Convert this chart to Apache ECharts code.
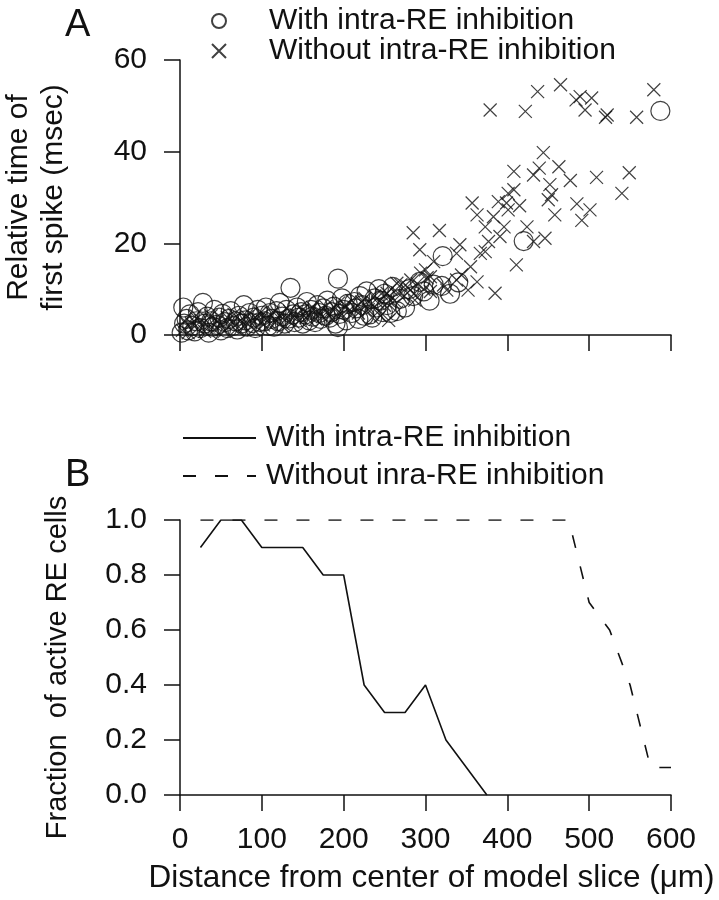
<!DOCTYPE html>
<html>
<head>
<meta charset="utf-8">
<script src="https://cdn.jsdelivr.net/npm/echarts@6/dist/echarts.min.js"></script>
<style>
html,body{margin:0;padding:0;background:#fff;}
#chart{width:719px;height:900px;}
</style>
</head>
<body>
<div id="chart"></div>
<script>
// ---------- DATA ----------
// Panel A: relative time of first spike (msec) vs distance (um)
const withInhibitionPts = [
  [2,0.5],[5,2.5],[4,6],[8,3.5],[10,1],[12,4.5],[15,2],[18,0.8],[20,3],[22,5],
  [25,1.5],[28,7],[30,2.5],[33,4],[35,0.5],[38,3],[40,1.8],[42,5.5],[45,2.2],[48,3.8],
  [50,1],[52,4.6],[55,2.8],[58,1.5],[60,3.5],[62,5.2],[65,2],[68,3],[70,1.2],[72,4.2],
  [75,2.5],[78,6.5],[80,3.2],[82,1.8],[85,4.8],[88,2.6],[90,3.8],[92,1.5],[95,5.5],[98,2.8],
  [100,4.2],[103,3],[105,6],[108,2],[110,4.8],[112,3.5],[115,1.8],[118,5.2],[120,3],[122,7],
  [125,4],[128,2.5],[130,5.5],[133,3.6],[135,10.3],[138,4.5],[140,2.8],[143,6],[145,3.8],[148,5],
  [150,2.5],[153,4.5],[155,7.2],[158,3.2],[160,5.5],[162,4],[165,2.8],[168,6.5],[170,4.8],[172,3.5],
  [175,5.8],[178,4.2],[180,7.5],[183,3.8],[185,5],[188,6.2],[190,2.5],[193,12.3],[195,4.6],[198,8],
  [200,5.5],[203,3.2],[205,6.8],[193,1.7],[210,4.8],[213,7.2],[215,5.8],[218,3.5],[220,8.5],[223,6.5],
  [225,4.2],[228,9.5],[232,4.5],[235,3.8],[238,8],[240,6],[243,10],[245,7.5],[248,5],[250,9],
  [253,6.5],[257,4.8],[260,10.5],[265,5.2],[269,7.9],[275,6],[280,10],[285,8.5],[293,11.6],[298,9.5],
  [305,7.5],[310,11],[320,10.7],[321,17.2],[330,9],[340,11.5],[420,20.5],[587,48.9]
];
const withoutInhibitionPts = [
  [3,1],[6,3],[10,0.5],[14,2.5],[18,4],[22,1.5],[26,3.2],[30,0.8],[34,2],[38,4.2],
  [42,1.2],[46,3],[50,2],[54,0.8],[58,3.8],[62,2.2],[66,4.5],[70,1.5],[74,3.2],[78,2],
  [82,4],[86,2.8],[90,1.2],[94,3.5],[98,4.8],[102,2.2],[106,3.8],[110,2.5],[114,5],[118,3],
  [122,4.2],[126,1.8],[130,3.6],[134,5.2],[138,2.8],[142,4.4],[146,3.2],[150,5.5],[154,3.8],[158,4.5],
  [162,6],[166,3.5],[170,5],[174,4],[178,6.2],[182,4.8],[186,3.5],[190,5.8],[194,7],[198,4.5],
  [202,6.5],[206,5.2],[210,7.5],[214,6],[218,4.8],[222,7.2],[226,8],[230,5.5],[234,6.8],[238,8.5],
  [242,7],[246,9],[250,6.5],[254,8.2],[258,10],[262,7.5],[266,9.2],[270,11],[274,8.5],[278,10.5],
  [282,12],[286,9],[290,11.2],[294,13.5],[298,10],[302,12.5],[306,9.5],[245,4.2],[255,3.2],[235,3.8],
  [265,5],[253,9.1],[265,11.3],[281,9.8],[287,7.6],[300,14.2],[306,12.7],[310,16],[322,10.9],[326,9.8],
  [338,12],[344,13.1],[352,9.8],[355,14.9],[363,11.6],[385,9.1],[411,15.3],[285,22.3],[317,22.8],[293,18.6],
  [338,17.8],[342,19.7],[367,17.8],[373,18.2],[377,20.4],[391,21.5],[432,20.4],[446,21.1],[373,23.6],[396,23.6],
  [424,23.6],[363,26.2],[383,25.8],[458,26.2],[491,25],[357,28.8],[389,29.1],[399,28.8],[401,27.3],[415,28.2],
  [485,28.6],[501,27.3],[401,30.9],[408,31.7],[454,30.6],[450,29.5],[540,30.9],[452,32.8],[477,33.7],[509,34.4],
  [549,35.4],[408,35.7],[439,36.4],[432,34.9],[463,36.7],[444,39.8],[379,49.1],[422,48.8],[437,53.1],[465,54.6],
  [484,51.3],[489,52],[503,51.7],[495,49.1],[522,48],[520,47.5],[558,47.5],[579,53.5]
];
// Panel B: fraction of active RE cells
const distWith = [25,50,75,100,125,150,175,200,225,250,275,300,325,350,375];
const fracWith = [0.9,1.0,1.0,0.9,0.9,0.9,0.8,0.8,0.4,0.3,0.3,0.4,0.2,0.1,0.0];
const distWithout = [25,50,75,100,125,150,175,200,225,250,275,300,325,350,375,400,425,450,475,500,525,550,575,600];
const fracWithout = [1,1,1,1,1,1,1,1,1,1,1,1,1,1,1,1,1,1,1,0.7,0.6,0.4,0.1,0.1];
const yTicksA = [0,20,40,60];
const yTicksB = [0,0.2,0.4,0.6,0.8,1.0];

// ---------- CHART ----------
const FONT = 'Liberation Sans, Arial, sans-serif';
const INK = '#111';
const chart = echarts.init(document.getElementById('chart'));
const zip = (xs, ys) => xs.map((x, i) => [x, ys[i]]);
const crossPath = 'path://M0,0L10,10M10,0L0,10';

const axisCommon = {
  axisLine: {show: true, onZero: false, lineStyle: {color: INK, width: 1.5}},
  axisTick: {show: true, inside: false, length: 16, lineStyle: {color: INK, width: 1.5}},
  splitLine: {show: false},
  axisLabel: {color: INK, fontSize: 30, fontFamily: FONT}
};

chart.setOption({
  animation: false,
  backgroundColor: '#fff',
  title: [
    {text: 'A', left: 60, top: 2, textStyle: {fontSize: 38, fontWeight: 'normal', color: INK, fontFamily: FONT}},
    {text: 'B', left: 60, top: 452, textStyle: {fontSize: 38, fontWeight: 'normal', color: INK, fontFamily: FONT}}
  ],
  legend: [
    {
      data: ['With intra-RE inhibition', 'Without intra-RE inhibition'],
      orient: 'vertical', left: 211, top: 6, padding: 0,
      itemWidth: 14, itemHeight: 14, itemGap: 0,
      textStyle: {fontSize: 30, fontFamily: FONT, color: INK, lineHeight: 30, padding: [0, 0, 0, 38]},
      selectedMode: false
    },
    {
      data: ['B|With intra-RE inhibition', 'B|Without inra-RE inhibition'],
      orient: 'vertical', left: 182, top: 423, padding: 0,
      itemWidth: 73, itemHeight: 14, itemGap: 8,
      textStyle: {fontSize: 30, fontFamily: FONT, color: INK, lineHeight: 30, padding: [0, 0, 0, 5]},
      formatter: n => n.replace('B|', ''),
      selectedMode: false
    }
  ],
  grid: [
    {left: 180, top: 60, width: 491, height: 275, outerBoundsMode: 'none', containLabel: false},
    {left: 180, top: 520, width: 491, height: 275, outerBoundsMode: 'none', containLabel: false}
  ],
  xAxis: [
    Object.assign({}, axisCommon, {
      type: 'value', gridIndex: 0, min: 0, max: 600, interval: 100,
      axisLabel: {show: false}
    }),
    Object.assign({}, axisCommon, {
      type: 'value', gridIndex: 1, min: 0, max: 600, interval: 100,
      axisLabel: Object.assign({}, axisCommon.axisLabel, {margin: 30}),
      name: 'Distance from center of model slice (\u03bcm)',
      nameLocation: 'middle', nameGap: 67,
      nameTextStyle: {fontSize: 31.5, fontFamily: FONT, color: INK, padding: [0, 0, 0, 12]}
    })
  ],
  yAxis: [
    Object.assign({}, axisCommon, {
      type: 'value', gridIndex: 0, min: yTicksA[0], max: yTicksA[yTicksA.length - 1], interval: 20,
      axisLabel: Object.assign({}, axisCommon.axisLabel, {margin: 33}),
      name: 'Relative time of\nfirst spike (msec)',
      nameLocation: 'middle', nameGap: 109, nameRotate: 90,
      nameTextStyle: {fontSize: 30, fontFamily: FONT, color: INK, lineHeight: 35}
    }),
    Object.assign({}, axisCommon, {
      type: 'value', gridIndex: 1, min: yTicksB[0], max: yTicksB[yTicksB.length - 1], interval: 0.2,
      axisLabel: Object.assign({}, axisCommon.axisLabel, {margin: 33, formatter: v => v.toFixed(1)}),
      name: 'Fraction  of active RE cells',
      nameLocation: 'middle', nameGap: 108, nameRotate: 90,
      nameTextStyle: {fontSize: 29, fontFamily: FONT, color: INK, padding: [0, 20, 0, 0]}
    })
  ],
  series: [
    {
      name: 'With intra-RE inhibition', type: 'scatter', xAxisIndex: 0, yAxisIndex: 0,
      symbol: 'circle', symbolSize: 19,
      itemStyle: {color: 'rgba(0,0,0,0)', borderColor: INK, borderWidth: 1.2},
      data: withInhibitionPts, z: 3
    },
    {
      name: 'Without intra-RE inhibition', type: 'scatter', xAxisIndex: 0, yAxisIndex: 0,
      symbol: crossPath, symbolSize: 13,
      itemStyle: {color: 'rgba(0,0,0,0)', borderColor: INK, borderWidth: 1.2},
      data: withoutInhibitionPts, z: 2
    },
    {
      name: 'B|With intra-RE inhibition', type: 'line', xAxisIndex: 1, yAxisIndex: 1,
      symbol: 'none', lineStyle: {color: INK, width: 1.6, type: 'solid'},
      itemStyle: {color: INK, opacity: 0},
      data: zip(distWith, fracWith)
    },
    {
      name: 'B|Without inra-RE inhibition', type: 'line', xAxisIndex: 1, yAxisIndex: 1,
      symbol: 'none', lineStyle: {color: INK, width: 1.6, type: [13, 19]},
      itemStyle: {color: INK, opacity: 0},
      data: zip(distWithout, fracWithout)
    }
  ]
});
</script>
</body>
</html>
